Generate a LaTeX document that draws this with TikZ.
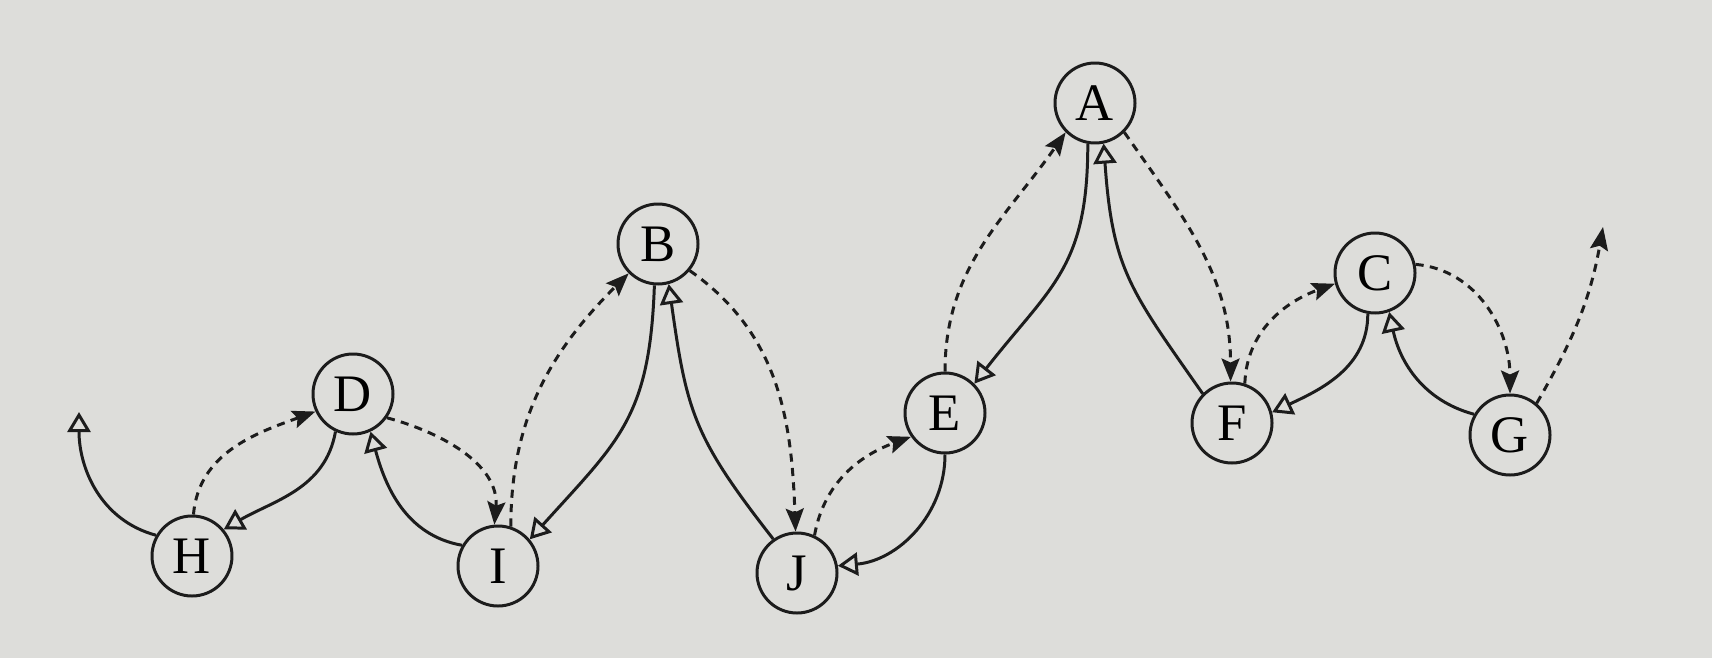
\documentclass[tikz,border=0pt]{standalone}
\usepackage{fontspec}
\setmainfont{Liberation Serif}
\usetikzlibrary{arrows.meta}
\definecolor{papel}{RGB}{221,221,218}
\definecolor{tinta}{RGB}{28,28,28}
\begin{document}
\begin{tikzpicture}[thick, line width=0.85pt, draw=tinta,
  main/.style={circle, draw=tinta, minimum size=0.8cm, inner sep=0pt, font=\fontsize{15}{18}\selectfont},
  enlace/.style={tinta, -{Triangle[open, length=2mm, width=2.3mm]}},
  hilo/.style={tinta, dash pattern=on 2.3pt off 1.8pt, -{Stealth[length=2.3mm, width=1.8mm, inset=0.4mm]}}]
  \fill[papel] (0,0) rectangle (17.12,-6.58);
  \useasboundingbox (0,0) rectangle (17.12,-6.58);

  % Nodos
  \node[main] (A) at (10.95,-1.03) {A};
  \node[main] (B) at (6.58,-2.44) {B};
  \node[main] (C) at (13.75,-2.73) {C};
  \node[main] (D) at (3.53,-3.94) {D};
  \node[main] (E) at (9.45,-4.13) {E};
  \node[main] (F) at (12.32,-4.23) {F};
  \node[main] (G) at (15.10,-4.35) {G};
  \node[main] (H) at (1.92,-5.56) {H};
  \node[main] (I) at (4.98,-5.66) {I};
  \node[main] (J) at (7.97,-5.73) {J};
  \coordinate (h0) at (0.79,-4.12);
  \coordinate (g0) at (16.03,-2.27);

  % Aristas (enlaces)
  \draw[enlace] (H.150) to[out=165, in=-90] (h0);
  \draw[enlace] (D.-115) to[out=-100, in=30] (H.40);
  \draw[enlace] (I.150) to[out=170, in=-75] (D.-65);
  \draw[enlace] (B.-95) to[out=-92, in=48, looseness=1.2] (I.40);
  \draw[enlace] (J.125) to[out=128, in=-82, looseness=1.2] (B.-75);
  \draw[enlace] (E.-90) to[out=-90, in=5] (J.10);
  \draw[enlace] (A.-100) to[out=-90, in=52, looseness=1.2] (E.45);
  \draw[enlace] (F.135) to[out=125, in=-86, looseness=1.2] (A.-78);
  \draw[enlace] (C.-100) to[out=-90, in=25] (F.15);
  \draw[enlace] (G.150) to[out=165, in=-78] (C.-70);

  % Hilos
  \draw[hilo] (H.88) to[out=85, in=200] (D.205);
  \draw[hilo] (D.-35) to[out=-15, in=85] (I.95);
  \draw[hilo] (I.72) to[out=90, in=225] (B.225);
  \draw[hilo] (B.-40) to[out=-35, in=92] (J.92);
  \draw[hilo] (J.65) to[out=80, in=200] (E.215);
  \draw[hilo] (E.90) to[out=90, in=235] (A.225);
  \draw[hilo] (A.-45) to[out=-55, in=90] (F.92);
  \draw[hilo] (F.72) to[out=88, in=200] (C.195);
  \draw[hilo] (C.12) to[out=-5, in=90] (G.90);
  \draw[hilo] (G.50) to[out=60, in=-100] (g0);
\end{tikzpicture}
\end{document}
